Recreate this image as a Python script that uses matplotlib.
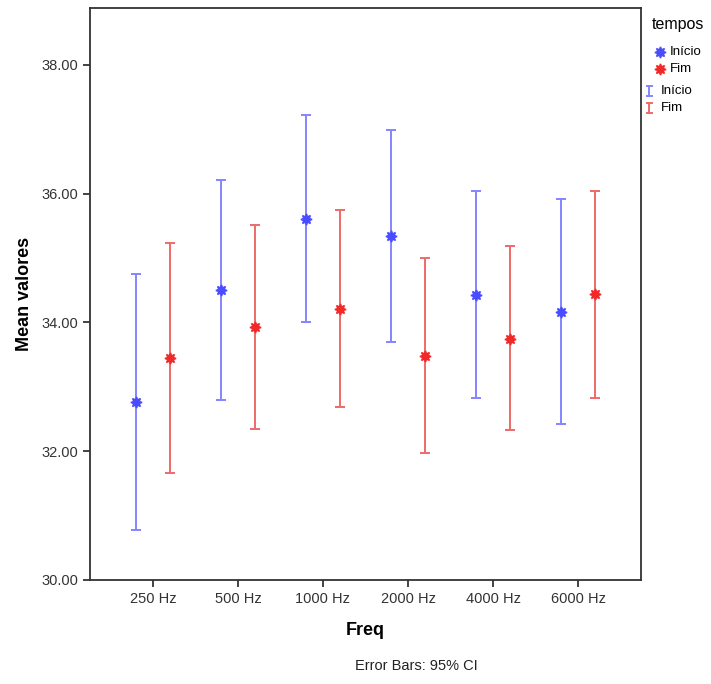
import numpy as np
import matplotlib
matplotlib.use("Agg")
import matplotlib.pyplot as plt
from matplotlib.lines import Line2D

plt.rcParams['font.family'] = ['Liberation Sans', 'DejaVu Sans']

# data (means and 95% CI bounds)
freqs = ["250 Hz", "500 Hz", "1000 Hz", "2000 Hz", "4000 Hz", "6000 Hz"]
inicio_mean = [32.77, 34.51, 35.61, 35.34, 34.43, 34.17]
inicio_low = [30.78, 32.79, 34.00, 33.70, 32.83, 32.42]
inicio_high = [34.75, 36.22, 37.22, 36.99, 36.04, 35.92]
fim_mean = [33.45, 33.93, 34.21, 33.48, 33.75, 34.44]
fim_low = [31.66, 32.35, 32.68, 31.98, 32.33, 32.82]
fim_high = [35.23, 35.52, 35.74, 35.00, 35.19, 36.05]

blue_mk, blue_ln = '#4a4cff', '#8485ff'
red_mk, red_ln = '#f02a2a', '#ee6a6a'
star = (8, 1, 0)

fig = plt.figure(figsize=(7.11, 6.84), dpi=100)
ax = fig.add_axes([90 / 711, 1 - 580 / 684, 551 / 711, 572 / 684])

x = np.arange(len(freqs))
off = 0.2
series = [
    (x - off, inicio_mean, inicio_low, inicio_high, blue_mk, blue_ln),
    (x + off, fim_mean, fim_low, fim_high, red_mk, red_ln),
]
for xs, m, lo, hi, mk, ln in series:
    m, lo, hi = np.array(m), np.array(lo), np.array(hi)
    ax.errorbar(xs, m, yerr=[m - lo, hi - m], fmt='none', ecolor=ln,
                elinewidth=1.4, capsize=3.5, capthick=1.4)
    ax.plot(xs, m, linestyle='none', marker=star, markersize=8,
            color=mk, markeredgecolor=mk, markeredgewidth=1.1, zorder=3)

ax.set_xlim(-0.74, 5.74)
ax.set_ylim(30, 38.885)
ax.set_xticks(x)
ax.set_xticklabels(freqs)
ax.set_yticks([30, 32, 34, 36, 38])
ax.set_yticklabels(["%.2f" % v for v in [30, 32, 34, 36, 38]])
ax.tick_params(axis='both', labelsize=10.5, colors='#222222', length=5,
               width=1.2, labelcolor='#333333')
for sp in ax.spines.values():
    sp.set_color('#333333')
    sp.set_linewidth(1.3)

ax.set_xlabel("Freq", fontsize=13, fontweight='bold', labelpad=12)
ax.set_ylabel("Mean valores", fontsize=13, fontweight='bold', labelpad=6)

fig.text(416 / 711, 1 - 666 / 684, "Error Bars: 95% CI", ha='center',
         va='center', fontsize=10.5, color='#222222')

# legend drawn by hand to keep the SPSS look
def fx(px):
    return px / 711

def fy(py):
    return 1 - py / 684

fig.text(fx(678), fy(25), "tempos", ha='center', va='center', fontsize=11.5)
for py, label, mk in [(52, "Início", blue_mk), (69, "Fim", red_mk)]:
    fig.add_artist(Line2D([fx(660)], [fy(py)], marker=star, markersize=8,
                          color=mk, markeredgecolor=mk, markeredgewidth=1.1,
                          transform=fig.transFigure))
    fig.text(fx(670), fy(py), label, ha='left', va='center', fontsize=9.5)
for py, label, ln in [(91, "Início", blue_ln), (108, "Fim", red_ln)]:
    fig.add_artist(Line2D([fx(649), fx(649)], [fy(py - 5), fy(py + 5)],
                          color=ln, lw=1.4, transform=fig.transFigure))
    for cap in (py - 5, py + 5):
        fig.add_artist(Line2D([fx(646.5), fx(651.5)], [fy(cap), fy(cap)],
                              color=ln, lw=1.4, transform=fig.transFigure))
    fig.text(fx(661), fy(py), label, ha='left', va='center', fontsize=9.5)

fig.savefig("out.png", dpi=100)
